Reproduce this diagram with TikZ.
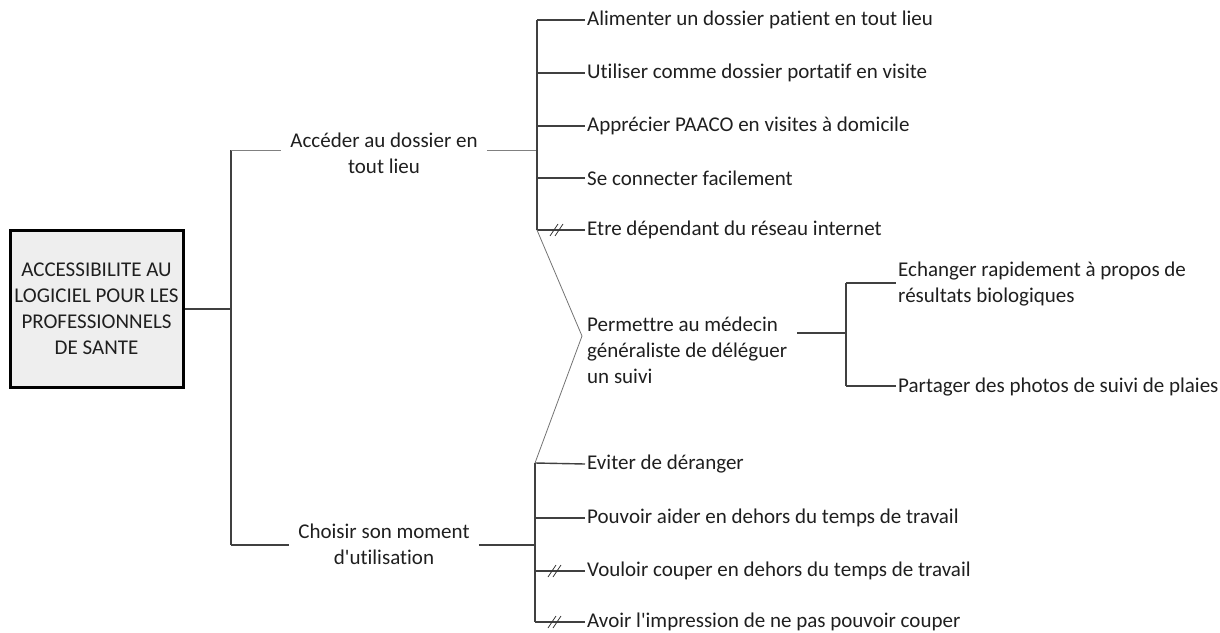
\documentclass[tikz,border=0pt]{standalone}
\usepackage{fontspec}
\setmainfont{Carlito}[Ligatures={NoCommon}]
\usetikzlibrary{calc}
\begin{document}
\begin{tikzpicture}[x=1pt,y=-1pt,
  font=\fontsize{21}{26}\selectfont,
  leaf/.style={anchor=west, inner xsep=2pt, inner ysep=0pt, text=black!88},
  mid/.style={align=center, inner xsep=9pt, inner ysep=0pt, text=black!88},
  rootbox/.style={draw=black, line width=3pt, fill=gray!13, minimum width=173pt, minimum height=157pt, align=center, inner sep=0pt, text=black!88},
  dark/.style={draw=black!75, line width=1.4pt},
  light/.style={draw=black!50, line width=1pt},
  diag/.style={draw=black!55, line width=0.8pt},
  breakmark/.style={draw=black!80, line width=0.8pt}]
\useasboundingbox (0,0) rectangle (1220,632);

% root
\node[rootbox] (root) at (96.5,308.5) {ACCESSIBILITE AU\\LOGICIEL POUR LES\\PROFESSIONNELS\\DE SANTE};

% level 1
\node[mid] (acc) at (384,153) {Accéder au dossier en\\tout lieu};
\node[mid] (cho) at (384,544) {Choisir son moment\\d\textquotesingle utilisation};

% leaves top
\node[leaf] (l1) at (585,20) {Alimenter un dossier patient en tout lieu};
\node[leaf] (l2) at (585,73) {Utiliser comme dossier portatif en visite};
\node[leaf] (l3) at (585,126) {Apprécier PAACO en visites à domicile};
\node[leaf] (l4) at (585,178) {Se connecter facilement};
\node[leaf] (l5) at (585,230) {Etre dépendant du réseau internet};

% shared node
\node[leaf, align=left] (perm) at (585,350) {Permettre au médecin\\généraliste de déléguer\\un suivi};
\node[leaf, align=left] (ech) at (896,284) {Echanger rapidement à propos de\\résultats biologiques};
\node[leaf] (par) at (896,387) {Partager des photos de suivi de plaies};

% leaves bottom
\node[leaf] (b1) at (585,464) {Eviter de déranger};
\node[leaf] (b2) at (585,518) {Pouvoir aider en dehors du temps de travail};
\node[leaf] (b3) at (585,571) {Vouloir couper en dehors du temps de travail};
\node[leaf] (b4) at (585,622) {Avoir l\textquotesingle impression de ne pas pouvoir couper};

% junction coordinates
\coordinate (rj) at (231,309);
\coordinate (rt) at (231,150);
\coordinate (rb) at (231,545);
\coordinate (aj) at (537,150);
\coordinate (at) at (537,20);
\coordinate (ab) at (537,230);
\coordinate (bj) at (535,545);
\coordinate (bt) at (535,463);
\coordinate (bb) at (535,622);
\coordinate (tip) at (582,336);
\coordinate (pj) at (846,333);
\coordinate (pt) at (846,283);
\coordinate (pb) at (846,386);
\coordinate (pl) at (797,333);

% root connectors
\draw[dark] (root.east |- rj) -- (rj);
\draw[dark] (rt) -- (rb);
\draw[light] (rt) -- (acc.west |- rt);
\draw[dark] (rb) -- (cho.west |- rb);
\draw[light] (acc.east |- aj) -- (aj);
\draw[dark] (cho.east |- bj) -- (bj);

% top branch
\draw[dark] (at) -- (ab);
\draw[dark] (at) -- (l1.west);
\draw[dark] (at |- l2.west) -- (l2.west);
\draw[dark] (at |- l3.west) -- (l3.west);
\draw[dark] (at |- l4.west) -- (l4.west);
\draw[dark] (ab) -- (l5.west);

% bottom branch
\draw[dark] (bt) -- (bb);
\draw[dark] (bt) -- (b1.west);
\draw[dark] (bt |- b2.west) -- (b2.west);
\draw[dark] (bt |- b3.west) -- (b3.west);
\draw[dark] (bb) -- (b4.west);

% shared node links
\draw[diag] (ab) -- (tip) -- (bt);

% permettre sub-branch
\draw[dark] (pl) -- (pj);
\draw[dark] (pt) -- (pb);
\draw[dark] (pt) -- (ech.west |- pt);
\draw[dark] (pb) -- (par.west |- pb);

% break marks
\foreach \c in {ab, bt|-b3.west, bb}{
  \draw[breakmark] ($(\c)+(13,6)$) -- ++(8,-12);
  \draw[breakmark] ($(\c)+(18,6)$) -- ++(8,-12);
}
\end{tikzpicture}
\end{document}
